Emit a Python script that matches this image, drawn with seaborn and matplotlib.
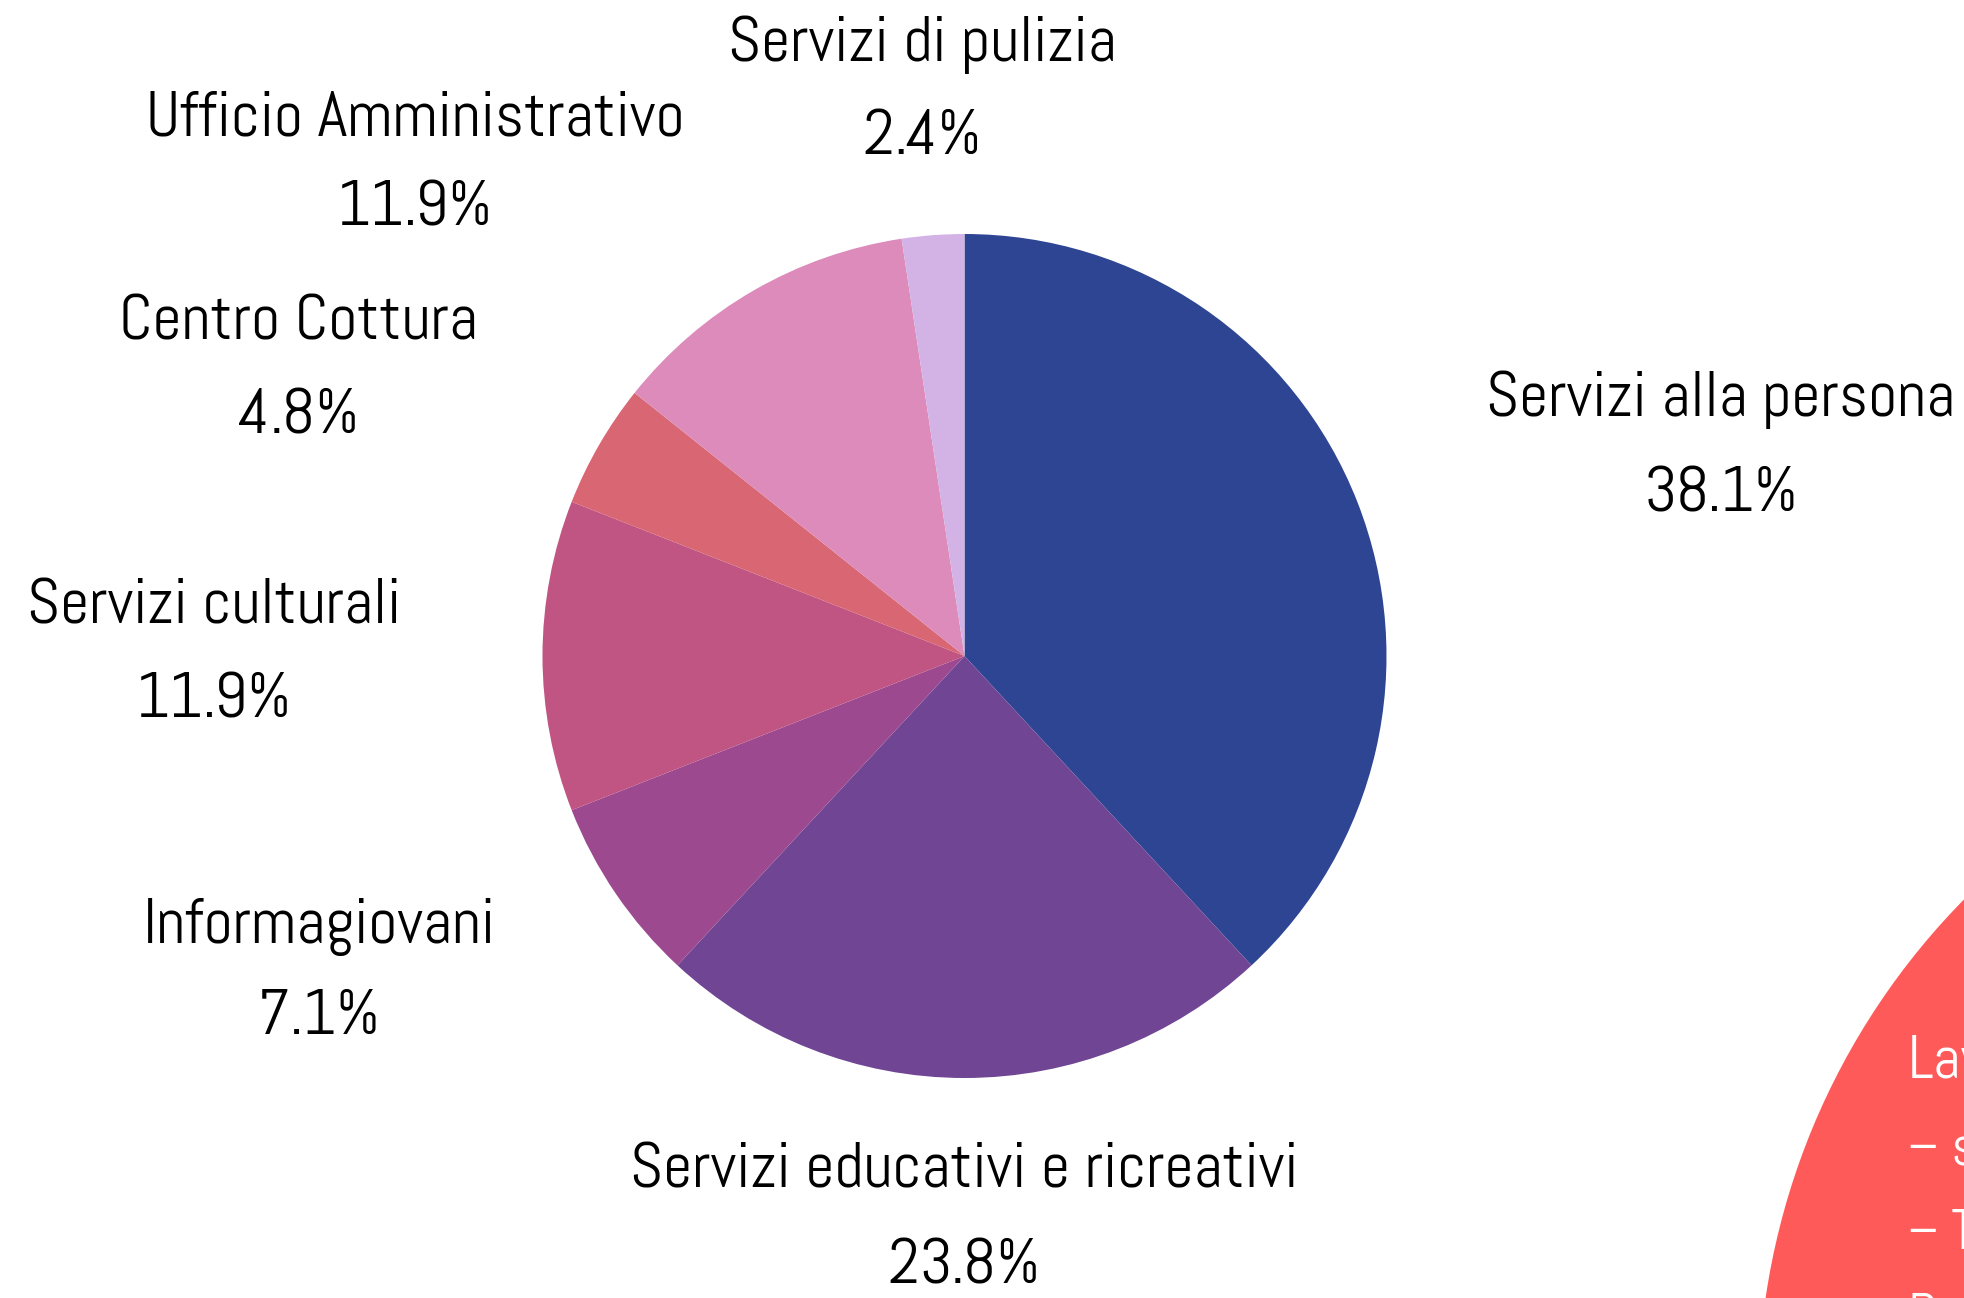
import matplotlib
matplotlib.use("Agg")
import matplotlib.pyplot as plt
from matplotlib.patches import Circle
import seaborn as sns

# dati: numero di lavoratori per servizio
servizi = ["Servizi alla persona", "Servizi educativi e ricreativi", "Informagiovani",
           "Servizi culturali", "Centro Cottura", "Ufficio Amministrativo", "Servizi di pulizia"]
lavoratori = [16, 10, 3, 5, 2, 5, 1]
colori = ["#2E4593", "#6F4594", "#9C4990", "#C05483", "#D96673", "#DC8BBA", "#D3B3E5"]

# posizione delle etichette (pixel, dall'alto): x, y nome, y percentuale
etichette_x = [1721, 964, 319, 214, 298, 415, 922]
etichette_y_nome = [400, 1172, 927, 607, 324, 120, 45]
etichette_y_pct = [495, 1268, 1018, 701, 418, 210, 138]

righe_box = ["Lavoratori", "– stagionali", "– Tempo determinato", "Part-time"]

sns.set_theme(style="white")
plt.rcParams['font.family'] = ['Abel', 'DejaVu Sans']

W, H = 1964, 1298
fig = plt.figure(figsize=(W / 100, H / 100), dpi=100)
ax = fig.add_axes([0, 0, 1, 1])

palette = sns.color_palette(colori)
ax.pie(lavoratori, colors=palette, startangle=90, counterclock=False,
       center=(964.5, H - 656), radius=422,
       wedgeprops=dict(linewidth=0), frame=True)
ax.set_xlim(0, W)
ax.set_ylim(0, H)
ax.set_aspect('equal')
ax.axis('off')

totale = sum(lavoratori)
for nome, v, x, yn, yp in zip(servizi, lavoratori, etichette_x, etichette_y_nome, etichette_y_pct):
    ax.text(x, H - yn, nome, ha='center', va='center', fontsize=46, color='black')
    ax.text(x, H - yp, f"{v / totale * 100:.1f}%", ha='center', va='center', fontsize=47, color='black')

# cerchio rosso in basso a destra
ax.add_patch(Circle((2474, H - 1402), 716, color='#FF5A5A', linewidth=0, clip_on=False))
ax.text(1908, H - 1062, righe_box[0], ha='left', va='center', fontsize=44, color='white')
for i, riga in enumerate(righe_box[1:]):
    ax.text(1908, H - 1150 - i * 84, riga, ha='left', va='center', fontsize=40, color='white')

fig.savefig('out.png', dpi=100, facecolor='white')
